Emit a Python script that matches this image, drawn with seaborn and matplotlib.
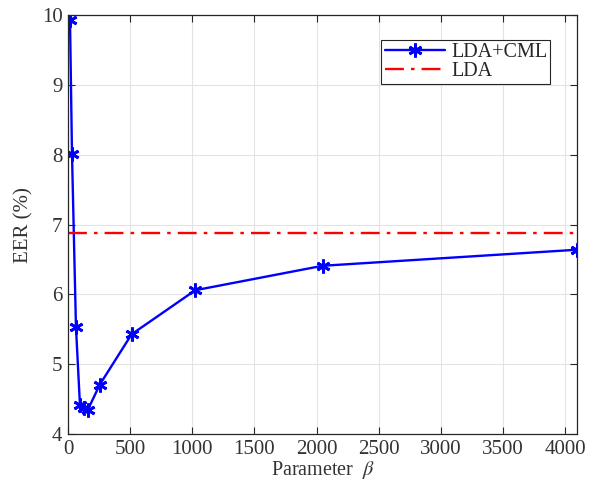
import numpy as np
import pandas as pd
import matplotlib
matplotlib.use("Agg")
import matplotlib.pyplot as plt
import seaborn as sns

# data
beta = [16, 32, 64, 96, 128, 160, 256, 512, 1024, 2048, 4096]
eer_cml = [9.93, 8.01, 5.53, 4.42, 4.38, 4.35, 4.71, 5.43, 6.06, 6.41, 6.64]
eer_lda = 6.88

sns.set_style("whitegrid")
plt.rcParams["font.family"] = ["Liberation Serif", "DejaVu Serif"]
plt.rcParams["mathtext.fontset"] = "stix"

df = pd.DataFrame({"beta": beta, "eer": eer_cml})

fig = plt.figure(figsize=(5.93, 4.84), dpi=100)
ax = fig.add_axes([0.1147, 0.103, 0.8583, 0.866])

sns.lineplot(data=df, x="beta", y="eer", ax=ax, color="#0000ff", marker=(6, 2, 0),
             markersize=10, markeredgewidth=2.0, markeredgecolor="#0000ff",
             linewidth=1.7, label="LDA+CML")
ax.plot([0, 4096], [eer_lda, eer_lda], color="#ff0000", linestyle="-.",
        linewidth=1.7, label="LDA", dashes=(8, 3, 1.5, 3))

ax.set_xlim(0, 4096)
ax.set_ylim(4, 10)
ax.set_xticks(np.arange(0, 4001, 500))
ax.set_yticks(np.arange(4, 11, 1))
ax.grid(True, color="#e3e3e3", linewidth=0.8)
for s in ax.spines.values():
    s.set_color("#262626")
    s.set_linewidth(0.9)
ax.tick_params(direction="in", length=5, width=0.8, color="#262626",
               labelsize=15, labelcolor="#333333", top=True, right=True,
               bottom=True, left=True, pad=4)
ax.set_xlabel(r"Parameter  $\beta$", fontsize=14.5, color="#333333", labelpad=0)
ax.set_ylabel("EER (%)", fontsize=15, color="#333333", labelpad=6)

leg = ax.legend(loc="upper right", fontsize=14.5, frameon=True, fancybox=False,
                borderpad=0.15, labelspacing=0.0, handlelength=3.0,
                handletextpad=0.3, bbox_to_anchor=(0.967, 0.964))
leg.get_frame().set_edgecolor("#262626")
leg.get_frame().set_linewidth(0.8)
leg.get_frame().set_alpha(1)

fig.savefig("out.png", dpi=100)
